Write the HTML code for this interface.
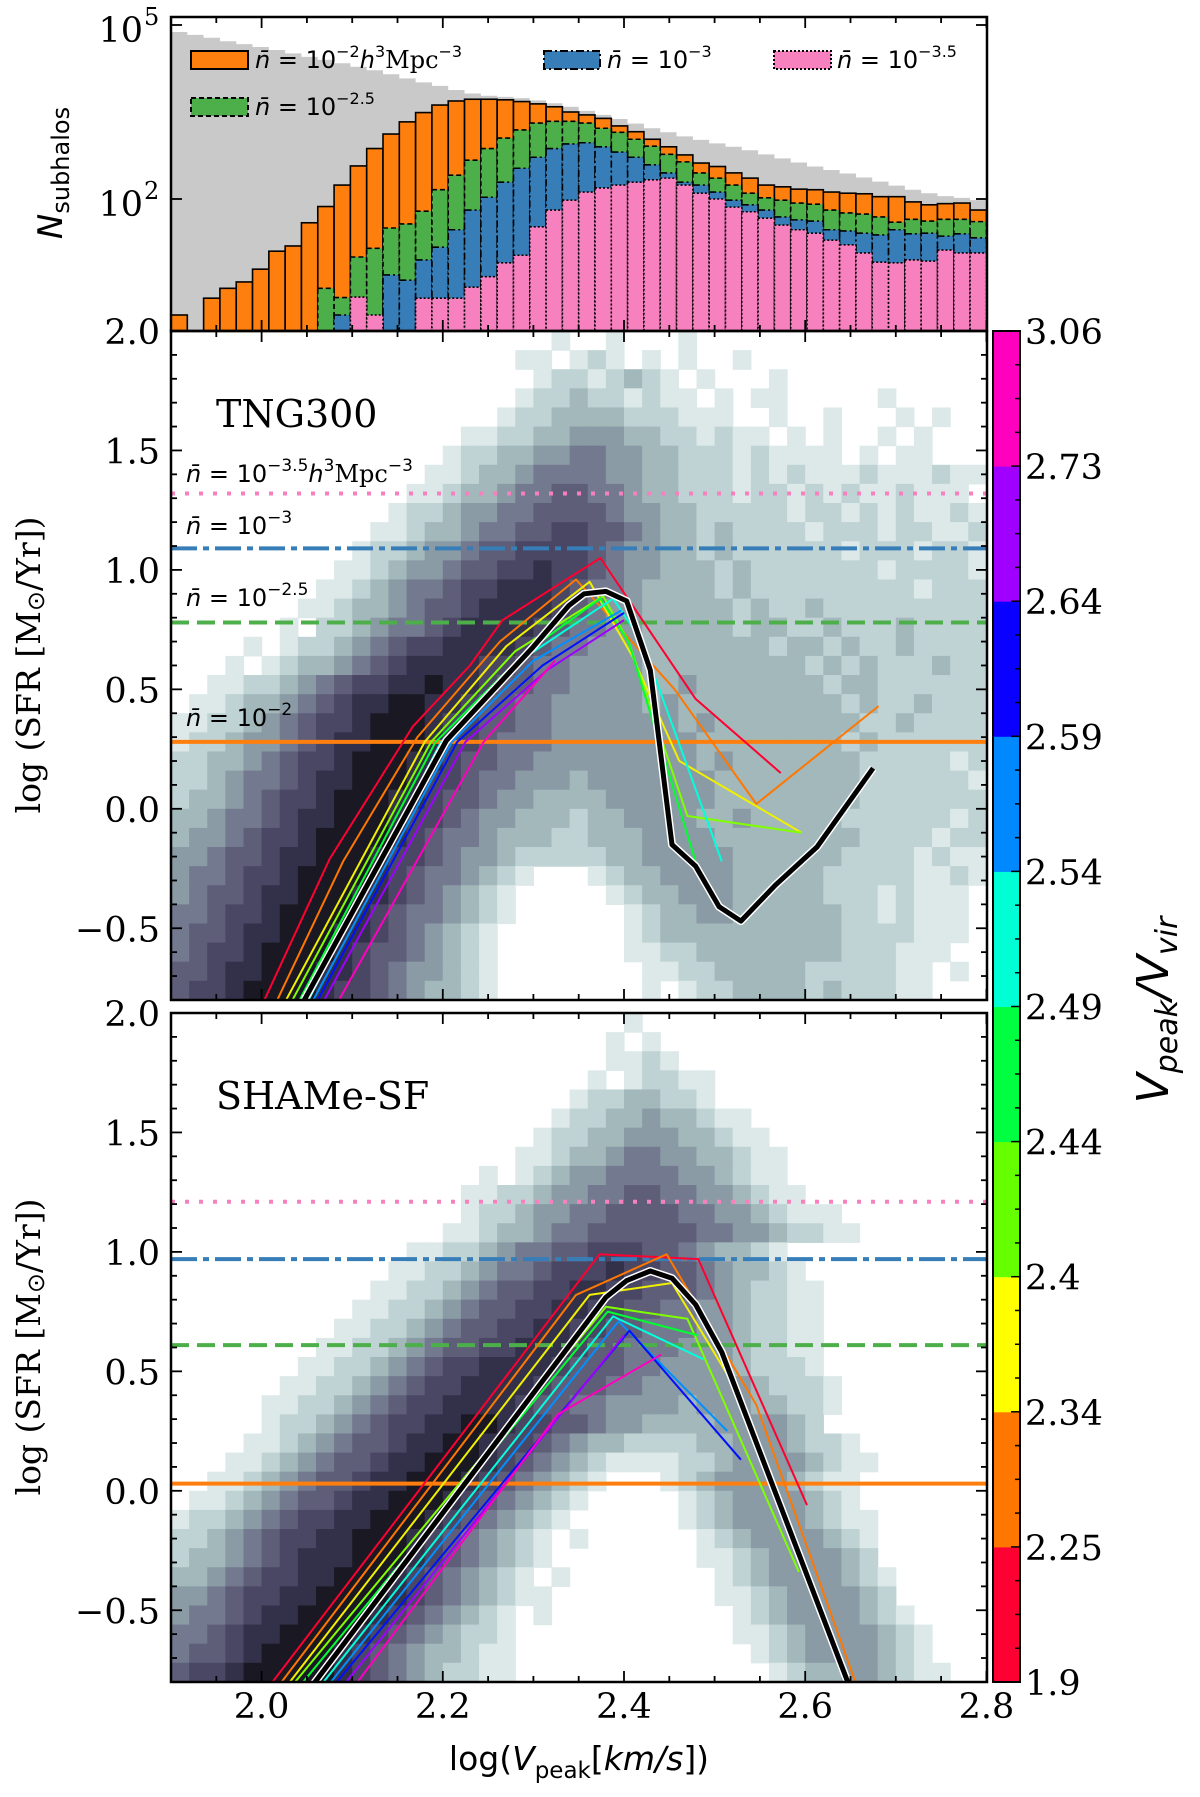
<!DOCTYPE html>
<html><head><meta charset="utf-8"><title>SFR vs Vpeak</title>
<style>
body{margin:0;background:#fff;}
svg{display:block;}
.tick{font-family:"DejaVu Serif","Liberation Serif",serif;font-size:35px;fill:#000;}
.ann{font-family:"DejaVu Sans","Liberation Sans",sans-serif;font-size:24px;fill:#000;}
</style></head>
<body>
<svg id="fig" width="1200" height="1797" viewBox="0 0 1200 1797" xmlns="http://www.w3.org/2000/svg">
<defs>
<clipPath id="clipH"><rect x="171" y="17" width="816" height="314"/></clipPath>
<clipPath id="clipM"><rect x="171" y="331" width="816" height="669"/></clipPath>
<clipPath id="clipB"><rect x="171" y="1013" width="816" height="669"/></clipPath>
</defs>
<rect x="0" y="0" width="1200" height="1797" fill="#fff"/>
<g id="hist" clip-path="url(#clipH)"></g>
<g id="mid" clip-path="url(#clipM)"></g>
<g id="bot" clip-path="url(#clipB)"></g>
<g id="axes"></g>
<g id="cbar"></g>

<g>
  <rect x="191" y="51" width="57" height="18" fill="#ff7f0e" stroke="#000" stroke-width="2"/>
  <text class="ann" x="255" y="68"><tspan font-style="italic">n̄</tspan> = 10<tspan dy="-11" font-size="16">−2</tspan><tspan dy="11" font-style="italic">h</tspan><tspan dy="-11" font-size="16">3</tspan><tspan dy="11" font-family="DejaVu Serif">Mpc</tspan><tspan dy="-11" font-size="16">−3</tspan></text>
  <rect x="544" y="51" width="56" height="18" fill="#377eb8" stroke="#000" stroke-width="2" stroke-dasharray="8,3,2,3"/>
  <text class="ann" x="607" y="68"><tspan font-style="italic">n̄</tspan> = 10<tspan dy="-11" font-size="16">−3</tspan></text>
  <rect x="774" y="51" width="57" height="18" fill="#f781bf" stroke="#000" stroke-width="2" stroke-dasharray="2,2"/>
  <text class="ann" x="837" y="68"><tspan font-style="italic">n̄</tspan> = 10<tspan dy="-11" font-size="16">−3.5</tspan></text>
  <rect x="191" y="98" width="57" height="18" fill="#4daf4a" stroke="#000" stroke-width="2" stroke-dasharray="5,3"/>
  <text class="ann" x="255" y="115"><tspan font-style="italic">n̄</tspan> = 10<tspan dy="-11" font-size="16">−2.5</tspan></text>
</g>

<text x="216" y="427" font-family="DejaVu Serif" font-size="38">TNG300</text>
<text x="216" y="1109" font-family="DejaVu Serif" font-size="38">SHAMe-SF</text>
<text class="ann" x="186" y="482"><tspan font-style="italic">n̄</tspan> = 10<tspan dy="-11" font-size="17">−3.5</tspan><tspan dy="11" font-style="italic">h</tspan><tspan dy="-11" font-size="17">3</tspan><tspan dy="11" font-family="DejaVu Serif">Mpc</tspan><tspan dy="-11" font-size="17">−3</tspan></text>
<text class="ann" x="186" y="534"><tspan font-style="italic">n̄</tspan> = 10<tspan dy="-11" font-size="17">−3</tspan></text>
<text class="ann" x="186" y="606"><tspan font-style="italic">n̄</tspan> = 10<tspan dy="-11" font-size="17">−2.5</tspan></text>
<text class="ann" x="186" y="726"><tspan font-style="italic">n̄</tspan> = 10<tspan dy="-11" font-size="17">−2</tspan></text>

<text transform="translate(62,173) rotate(-90)" text-anchor="middle" font-family="DejaVu Sans" font-size="34"><tspan font-style="italic">N</tspan><tspan font-size="24" dy="7">subhalos</tspan></text>
<text transform="translate(40,665) rotate(-90)" text-anchor="middle" font-family="DejaVu Serif" font-size="33">log (SFR [M<tspan font-family="DejaVu Sans" font-size="24" dy="4">⊙</tspan><tspan dy="-4">/Yr])</tspan></text>
<text transform="translate(40,1347) rotate(-90)" text-anchor="middle" font-family="DejaVu Serif" font-size="33">log (SFR [M<tspan font-family="DejaVu Sans" font-size="24" dy="4">⊙</tspan><tspan dy="-4">/Yr])</tspan></text>
<text x="579" y="1770" text-anchor="middle" font-family="DejaVu Sans" font-size="33">log(<tspan font-style="italic">V</tspan><tspan font-size="23" dy="8">peak</tspan><tspan dy="-8">[</tspan><tspan font-style="italic">km/s</tspan>])</text>
<text transform="translate(1168,1010) rotate(-90)" text-anchor="middle" font-family="DejaVu Sans" font-style="italic" font-size="44">V<tspan font-size="30" dy="9">peak</tspan><tspan dy="-9">/V</tspan><tspan font-size="30" dy="9">vir</tspan></text>

<script>
const histBinStart = 1.9;
const histBinWidth = 0.018;
const greyLog10N = [4.88,4.83,4.78,4.72,4.67,4.62,4.57,4.51,4.45,4.40,4.34,4.28,4.22,4.15,4.08,4.01,3.95,3.88,3.82,3.78,3.76,3.74,3.70,3.65,3.59,3.52,3.45,3.38,3.30,3.22,3.15,3.08,3.02,2.96,2.90,2.84,2.77,2.70,2.63,2.56,2.50,2.44,2.37,2.30,2.23,2.16,2.10,2.05,2.02,1.98];
const orangeLog10N = [0.0,null,0.29,0.46,0.57,0.79,1.10,1.19,1.59,1.87,2.24,2.57,2.87,3.12,3.33,3.49,3.62,3.69,3.72,3.72,3.71,3.68,3.64,3.59,3.50,3.45,3.39,3.26,3.16,3.03,2.90,2.76,2.62,2.56,2.45,2.36,2.24,2.21,2.17,2.16,2.12,2.10,2.09,2.04,2.04,1.95,1.90,1.92,1.93,1.81];
const greenLog10N = [null,null,null,null,null,null,null,null,null,0.46,0.30,1.00,1.15,1.50,1.57,1.79,2.16,2.41,2.67,2.87,3.05,3.19,3.31,3.34,3.34,3.31,3.22,3.15,3.03,2.91,2.77,2.64,2.45,2.36,2.24,2.10,2.02,1.98,1.93,1.91,1.81,1.76,1.74,1.69,1.60,1.65,1.62,1.65,1.65,1.61];
const blueLog10N = [null,null,null,null,null,null,null,null,null,null,0.0,null,null,0.69,0.60,0.95,1.17,1.47,1.81,2.03,2.29,2.53,2.72,2.87,2.95,2.97,2.90,2.81,2.72,2.59,2.45,2.29,2.24,2.12,1.98,1.90,1.81,1.69,1.64,1.62,1.47,1.45,1.41,1.38,1.47,1.40,1.41,1.36,1.40,1.33];
const pinkLog10N = [null,null,null,null,null,null,null,null,null,null,null,0.31,0.0,null,null,0.29,0.29,0.29,0.48,0.66,0.90,1.03,1.52,1.81,1.98,2.12,2.19,2.24,2.29,2.33,2.36,2.24,2.10,2.00,1.86,1.78,1.67,1.55,1.47,1.41,1.29,1.21,1.07,0.91,0.90,0.95,0.93,1.12,1.07,1.07];

const heatXStart = 1.9, heatXStep = 0.02, heatYTop = 2.0, heatYStep = 0.08;
const tngRows = [
 [[21,"10010001"]],
 [[19,"1101210101001"]],
 [[20,"1221232101000100"]],
 [[19,"122322121101011000001"]],
 [[18,"1223333222111001001000101"]],
 [[16,"11223344433221211010100101"]],
 [[15,"122334455443322212111101011"]],
 [[14,"1123345555443322212121112111211"]],
 [[13,"1123345566554332221221212112111"]],
 [[12,"122344556666544332222212212121121"]],
 [[11,"1123345566776654332322221222122112"]],
 [[10,"12234456677776544332322222212221221"]],
 [[9,"112344566778776544333232222222122221"]],
 [[8,"1123455677888765543333232222222221222"]],
 [[7,"11233456678888765443333323223222222222"]],
 [[6,"102234556788887655443333323322322232222"]],
 [[4,"10122345677888876554443333333233232232222"]],
 [[3,"101233456788887765544443333333332323222322"]],
 [[2,"1122345677889887665544443343333333233222222"]],
 [[1,"11233456788998876655444443433333333323223222"]],
 [[0,"112234567789998776655444444434333333332232222"]],
 [[0,"122344567889998776555444444443333333323222222"]],
 [[0,"223345677899988766554444444443433333332222212"]],
 [[0,"223455678899987765544434444444333333332222221"]],
 [[0,"233456778999887665443333444444333333332222222"]],
 [[0,"334556788999877654433323344443343333322222212"]],
 [[0,"344567789999876554333223334444333333332222122"]],
 [[0,"445667889998776544322222334444433333322221211"]],
 [[0,"455677899998765543210001233444433333222221121"]],
 [[0,"456678899988765432100000123344433333222121110"]],
 [[0,"556778999987655432100000012334433333322121110"]],
 [[0,"566788999887654321000000012333333333322221110"]],
 [[0,"567789999876654321000000011223333333322211100"]],
 [[0,"667889998876544321000000001122333332222211010"]],
 [[0,"677899998776543321000000001012233332322211000"]]
];
const shameRows = [
 [[25,"1"]],
 [[24,"101"]],
 [[24,"1121"]],
 [[23,"1012211"]],
 [[22,"12233221"]],
 [[21,"12233433211"]],
 [[20,"1223344433211"]],
 [[19,"112334554433211"]],
 [[17,"10123445555443211"]],
 [[16,"1122344556655443211"]],
 [[16,"122344556666554432111"]],
 [[15,"11233455666666554432211"]],
 [[13,"112234556677766543321"]],
 [[12,"11223455677787766543321"]],
 [[11,"1122345667788776665432211"]],
 [[10,"11223456677887766554432211"]],
 [[9,"112234566778877665554432211"]],
 [[8,"1122345667788876655544432211"]],
 [[7,"11223456778888766655444432221"]],
 [[6,"1122345677888876665544444432221"]],
 [[5,"11223456778888766554444344433221"]],
 [[5,"1223456778899877665443333444432"]],
 [[4,"1123456678899877654332222334443221"]],
 [[3,"112345667889998765432111122344443211"]],
 [[2,"11234566788999876543210"],[27,"12344443211"]],
 [[1,"1123456678899987654321"],[28,"1234444321"]],
 [[0,"1223456778899987654321"],[28,"12344443211"]],
 [[0,"22345677889998765432101"],[29,"1234444321"]],
 [[0,"2334567888999876543210"],[29,"1123444432"]],
 [[0,"3345677889998765432101"],[30,"1234444321"]],
 [[0,"4456778899998765432"],[19,"11"],[30,"1123444432"]],
 [[0,"4556788999987654321"],[20,"1"],[31,"1234444321"]],
 [[0,"5567889999876543221"],[31,"11234444321"]],
 [[0,"5667899998765433211"],[32,"1234444321"]],
 [[0,"6778999998765432211"],[33,"1233443211"]]
];

const tngRefLevels = [1.32, 1.09, 0.78, 0.28];
const shameRefLevels = [1.21, 0.97, 0.61, 0.03];

const tngCurveRed = [[1.997,-0.85],[2.075,-0.21],[2.167,0.345],[2.23,0.60],[2.266,0.79],[2.374,1.05],[2.479,0.46],[2.573,0.15]];
const tngCurveOrange = [[2.011,-0.85],[2.09,-0.22],[2.172,0.30],[2.263,0.70],[2.347,0.96],[2.456,0.50],[2.546,0.02],[2.681,0.43]];
const tngCurveYellow = [[2.02,-0.85],[2.18,0.28],[2.27,0.68],[2.362,0.95],[2.409,0.64],[2.461,0.20],[2.596,-0.10]];
const tngCurveLime = [[2.027,-0.85],[2.187,0.28],[2.28,0.66],[2.377,0.89],[2.405,0.70],[2.47,-0.03],[2.596,-0.10]];
const tngCurveGreen = [[2.035,-0.85],[2.192,0.28],[2.29,0.65],[2.374,0.88],[2.405,0.70],[2.479,-0.22]];
const tngCurveCyan = [[2.045,-0.85],[2.198,0.28],[2.293,0.64],[2.388,0.88],[2.42,0.70],[2.508,-0.22]];
const tngCurveAzure = [[2.05,-0.85],[2.21,0.28],[2.30,0.62],[2.397,0.83]];
const tngCurveBlue = [[2.055,-0.85],[2.216,0.28],[2.31,0.60],[2.40,0.82]];
const tngCurvePurple = [[2.062,-0.85],[2.225,0.28],[2.315,0.58],[2.40,0.79]];
const tngCurveMagenta = [[2.078,-0.85],[2.245,0.28],[2.324,0.62]];
const tngCurveMedian = [[2.04,-0.85],[2.204,0.286],[2.298,0.67],[2.339,0.85],[2.356,0.90],[2.38,0.91],[2.403,0.87],[2.429,0.58],[2.453,-0.15],[2.479,-0.24],[2.505,-0.41],[2.529,-0.47],[2.567,-0.32],[2.613,-0.16],[2.675,0.17]];

const shameCurveRed = [[2.002,-0.85],[2.373,0.99],[2.482,0.97],[2.602,-0.06]];
const shameCurveOrange = [[2.012,-0.85],[2.347,0.82],[2.447,0.99],[2.546,0.36],[2.660,-0.85]];
const shameCurveYellow = [[2.021,-0.85],[2.362,0.82],[2.453,0.87],[2.52,0.45]];
const shameCurveLime = [[2.026,-0.85],[2.38,0.77],[2.47,0.72],[2.593,-0.34]];
const shameCurveGreen = [[2.035,-0.85],[2.382,0.75],[2.482,0.65]];
const shameCurveCyan = [[2.058,-0.85],[2.388,0.73],[2.488,0.55]];
const shameCurveAzure = [[2.066,-0.85],[2.394,0.71],[2.514,0.25]];
const shameCurveBlue = [[2.072,-0.85],[2.406,0.67],[2.529,0.13]];
const shameCurvePurple = [[2.083,-0.85],[2.40,0.65]];
const shameCurveMagenta = [[2.096,-0.85],[2.327,0.32],[2.441,0.57]];
const shameCurveMedian = [[2.049,-0.85],[2.38,0.81],[2.403,0.88],[2.429,0.92],[2.453,0.89],[2.479,0.78],[2.508,0.58],[2.652,-0.85]];

const cbTickLabels = ['1.9','2.25','2.34','2.4','2.44','2.49','2.54','2.59','2.64','2.73','3.06'];
const xTickLabels = ['2.0','2.2','2.4','2.6','2.8'];
const xTickValues = [2.0,2.2,2.4,2.6,2.8];
const yTickLabels = ['2.0','1.5','1.0','0.5','0.0','−0.5'];
const yTickValues = [2.0,1.5,1.0,0.5,0.0,-0.5];

const heatColors = ['#ffffff','#dde9e9','#bfd3d4','#a2b8bb','#8a9ba5','#737a8f','#5f5e79','#4a4764','#33314a','#1a1923'];
const curveColors = ['#ff0030','#ff7700','#f0f000','#80ff00','#00ff30','#00ffdd','#0090ff','#0010ff','#a000ff','#ff00c0'];
const cbColors = ['#ff0033','#ff7700','#ffff00','#66ff00','#00ff40','#00ffd5','#0088ff','#0a00ff','#a000ff','#ff00bf'];
const refColors = ['#f781bf','#377eb8','#4daf4a','#ff7f0e'];
const refDash = ['4,10','26,6,6,6','18,8',''];
const refNames = ['ref-line-n-3.5','ref-line-n-3','ref-line-n-2.5','ref-line-n-2'];

const PX_L = 171, PX_PER_X = 906;
const X = v => PX_L + (v - 1.9) * PX_PER_X;
const YM = v => 331 + (2.0 - v) * 238.9;
const YB = v => 1013 + (2.0 - v) * 238.9;
const YH = lg => 199 - (lg - 2) * 58;
const H_BOTTOM = 331;
const TICK_FONT = 'DejaVu Serif, Liberation Serif, serif';

const NS = 'http://www.w3.org/2000/svg';
function mk(tag, attrs, parent) {
  const e = document.createElementNS(NS, tag);
  for (const k in attrs) e.setAttribute(k, attrs[k]);
  parent.appendChild(e);
  return e;
}

const hist = document.getElementById('hist');
let gp = '';
for (let b = 0; b < greyLog10N.length; b++) {
  const x0 = X(histBinStart + b * histBinWidth), x1 = X(histBinStart + (b + 1) * histBinWidth);
  const y = YH(greyLog10N[b]);
  gp += (b === 0 ? 'M' + x0 + ',' + H_BOTTOM + ' L' : ' L') + x0 + ',' + y + ' L' + x1 + ',' + y;
}
gp += ' L' + X(histBinStart + greyLog10N.length * histBinWidth) + ',' + H_BOTTOM + ' Z';
const greyEl = mk('path', {d: gp, fill: '#c9c9c9'}, hist);



function drawBars(vals, fill, dash, name) {
  const g = mk('g', {}, hist);
  
  
  for (let b = 0; b < vals.length; b++) {
    if (vals[b] === null) continue;
    const x0 = X(histBinStart + b * histBinWidth), x1 = X(histBinStart + (b + 1) * histBinWidth);
    const y = YH(vals[b]);
    if (y >= H_BOTTOM) continue;
    const r = mk('rect', {x: x0, y: y, width: x1 - x0, height: H_BOTTOM - y, fill: fill, stroke: '#000', 'stroke-width': 1.6, 'stroke-dasharray': dash}, g);
    
    
  }
}
drawBars(orangeLog10N, '#ff7f0e', 'none', 'histogram-n-2');
drawBars(greenLog10N, '#4daf4a', '5,3', 'histogram-n-2.5');
drawBars(blueLog10N, '#377eb8', '7,3,2,3', 'histogram-n-3');
drawBars(pinkLog10N, '#f781bf', '2,2', 'histogram-n-3.5');

function drawHeat(rows, parent, Y, name) {
  const g = mk('g', {}, parent);
  
  
  const w = heatXStep * PX_PER_X;
  for (let r = 0; r < rows.length; r++) {
    const yTop = Y(heatYTop - heatYStep * r), yBot = Y(heatYTop - heatYStep * (r + 1));
    for (const seg of rows[r]) {
      const start = seg[0], digits = seg[1];
      for (let j = 0; j < digits.length; j++) {
        const lvl = +digits[j];
        if (!lvl) continue;
        const c = start + j;
        const cell = mk('rect', {x: X(heatXStart + heatXStep * c), y: yTop, width: w + 0.6, height: yBot - yTop + 0.6, fill: heatColors[lvl]}, g);
        
        
      }
    }
  }
}
const mid = document.getElementById('mid');
const bot = document.getElementById('bot');
drawHeat(tngRows, mid, YM, 'tng300-density-heatmap');
drawHeat(shameRows, bot, YB, 'shame-density-heatmap');

function drawRefs(levels, parent, Y) {
  for (let i = 0; i < levels.length; i++) {
    const l = mk('line', {x1: 171, x2: 987, y1: Y(levels[i]), y2: Y(levels[i]), stroke: refColors[i], 'stroke-width': 4, 'stroke-dasharray': refDash[i] || 'none'}, parent);
    
    
  }
}
drawRefs(tngRefLevels, mid, YM);
drawRefs(shameRefLevels, bot, YB);

function pathOf(pts, Y) { return pts.map((p, i) => (i ? 'L' : 'M') + X(p[0]).toFixed(1) + ',' + Y(p[1]).toFixed(1)).join(' '); }
function drawCurves(curves, median, parent, Y, prefix) {
  const names = ['red','orange','yellow','lime','green','cyan','azure','blue','purple','magenta'];
  for (let i = 0; i < curves.length; i++) {
    const c = mk('path', {d: pathOf(curves[i], Y), fill: 'none', stroke: curveColors[i], 'stroke-width': 2, 'stroke-linejoin': 'round'}, parent);
    
    
  }
  const halo = mk('path', {d: pathOf(median, Y), fill: 'none', stroke: '#fff', 'stroke-width': 8, 'stroke-linejoin': 'round'}, parent);
  
  
  const m = mk('path', {d: pathOf(median, Y), fill: 'none', stroke: '#000', 'stroke-width': 5, 'stroke-linejoin': 'round'}, parent);
  
  
}
drawCurves([tngCurveRed,tngCurveOrange,tngCurveYellow,tngCurveLime,tngCurveGreen,tngCurveCyan,tngCurveAzure,tngCurveBlue,tngCurvePurple,tngCurveMagenta], tngCurveMedian, mid, YM, 'tng300');
drawCurves([shameCurveRed,shameCurveOrange,shameCurveYellow,shameCurveLime,shameCurveGreen,shameCurveCyan,shameCurveAzure,shameCurveBlue,shameCurvePurple,shameCurveMagenta], shameCurveMedian, bot, YB, 'shame');

const axes = document.getElementById('axes');
function frame(top, bottom, name) {
  const f = mk('rect', {x: 171, y: top, width: 816, height: bottom - top, fill: 'none', stroke: '#000', 'stroke-width': 2.5}, axes);
  
  
  for (let k = 0; k <= 18; k++) {
    const v = 1.9 + 0.05 * k;
    const major = Math.round(v * 100) % 20 === 0;
    const len = major ? 11 : 6;
    const x = X(v);
    const t1 = mk('line', {x1: x, x2: x, y1: bottom, y2: bottom - len, stroke: '#000', 'stroke-width': 1.8}, axes);
    
    
    const t2 = mk('line', {x1: x, x2: x, y1: top, y2: top + len, stroke: '#000', 'stroke-width': 1.8}, axes);
    
    
  }
}
frame(17, 331, 'histogram-frame');
frame(331, 1000, 'tng300-frame');
frame(1013, 1682, 'shame-frame');

function yTicks(Y) {
  for (let k = -8; k <= 20; k++) {
    const v = k / 10, y = Y(v);
    const len = (k % 5 === 0) ? 11 : 6;
    const a = mk('line', {x1: 171, x2: 171 + len, y1: y, y2: y, stroke: '#000', 'stroke-width': 1.8}, axes);
    
    
    const b = mk('line', {x1: 987, x2: 987 - len, y1: y, y2: y, stroke: '#000', 'stroke-width': 1.8}, axes);
    
    
  }
  for (let i = 0; i < yTickValues.length; i++) {
    const t = mk('text', {x: 160, y: Y(yTickValues[i]) + 13, 'text-anchor': 'end', 'font-family': TICK_FONT, 'font-size': 35}, axes);
    t.textContent = yTickLabels[i];
    
    
  }
}
yTicks(YM);
yTicks(YB);

[2, 5].forEach(lg => {
  const y = YH(lg);
  const a = mk('line', {x1: 171, x2: 182, y1: y, y2: y, stroke: '#000', 'stroke-width': 1.8}, axes);
  
  
  const b = mk('line', {x1: 987, x2: 976, y1: y, y2: y, stroke: '#000', 'stroke-width': 1.8}, axes);
  
  
  const t = mk('text', {x: 143, y: y + 17, 'text-anchor': 'end', 'font-family': TICK_FONT, 'font-size': 35}, axes);
  t.textContent = '10';
  
  
  const s = mk('text', {x: 144, y: y + 0, 'font-family': TICK_FONT, 'font-size': 24}, axes);
  s.textContent = String(lg);
  
  
});

for (let i = 0; i < xTickValues.length; i++) {
  const t = mk('text', {x: X(xTickValues[i]), y: 1718, 'text-anchor': 'middle', 'font-family': TICK_FONT, 'font-size': 35}, axes);
  t.textContent = xTickLabels[i];
  
  
}

const cbar = document.getElementById('cbar');
const CB_TOP = 331, CB_BOT = 1682, CB_X0 = 993, CB_X1 = 1020;
const segH = (CB_BOT - CB_TOP) / cbColors.length;
for (let i = 0; i < cbColors.length; i++) {
  const r = mk('rect', {x: CB_X0, y: CB_BOT - (i + 1) * segH, width: CB_X1 - CB_X0, height: segH + 0.5, fill: cbColors[i]}, cbar);
  
  
}
const cbFrame = mk('rect', {x: CB_X0, y: CB_TOP, width: CB_X1 - CB_X0, height: CB_BOT - CB_TOP, fill: 'none', stroke: '#000', 'stroke-width': 2}, cbar);


for (let k = 0; k <= cbColors.length * 4; k++) {
  const y = CB_BOT - k * segH / 4;
  const len = (k % 4 === 0) ? 9 : 5;
  const t = mk('line', {x1: CB_X1, x2: CB_X1 - len, y1: y, y2: y, stroke: '#000', 'stroke-width': 1.5}, cbar);
  
  
}
for (let i = 0; i < cbTickLabels.length; i++) {
  const t = mk('text', {x: 1025, y: CB_BOT - i * segH + 13, 'font-family': TICK_FONT, 'font-size': 35}, cbar);
  t.textContent = cbTickLabels[i];
  
  
}
</script>
</svg>
</body></html>
